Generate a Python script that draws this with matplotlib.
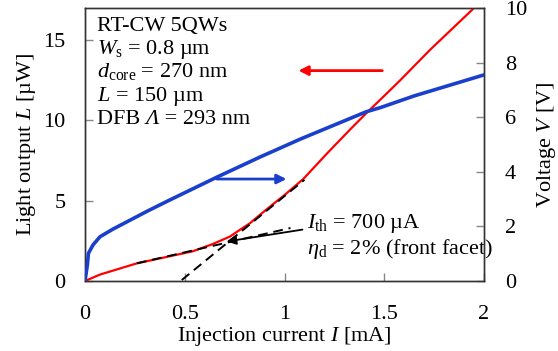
import matplotlib
matplotlib.use("Agg")
import matplotlib.pyplot as plt

plt.rcParams['font.family'] = ['Liberation Serif', 'DejaVu Serif']
plt.rcParams['mathtext.fontset'] = 'custom'
plt.rcParams['mathtext.rm'] = 'Liberation Serif'
plt.rcParams['mathtext.it'] = 'Liberation Serif:italic'
plt.rcParams['mathtext.bf'] = 'Liberation Serif:bold'

# Data
I_L = [0, 0.075, 0.26, 0.54, 0.64, 0.727, 0.76, 0.827, 0.88, 0.944, 1.0, 1.094, 1.21, 1.33, 1.41, 1.51, 1.58, 1.73, 1.95, 1.97]
L_uW = [0, 0.4, 1.1, 1.85, 2.3, 2.77, 3.05, 3.6, 4.15, 4.8, 5.35, 6.35, 7.9, 9.45, 10.45, 11.65, 12.5, 14.4, 17.0, 17.2]

I_V = [0, 0.012, 0.017, 0.04, 0.075, 0.14, 0.31, 0.42, 0.66, 0.88, 1.08, 1.41, 1.48, 1.65, 2.0]
V_V = [0, 0.6, 1.01, 1.32, 1.62, 1.9, 2.55, 2.95, 3.8, 4.55, 5.2, 6.2, 6.35, 6.78, 7.55]

fit_spont_I = [0.26, 1.03]
fit_spont_L = [1.1, 3.3]
fit_las_I = [0.485, 1.10]
fit_las_L = [0.06, 6.3]

x_ticks = [0, 0.5, 1, 1.5, 2]
x_labels = ['0', '0.5', '1', '1.5', '2']
yl_ticks = [0, 5, 10, 15]
yr_ticks = [0, 2, 4, 6, 8, 10]

info_lines = [r'RT-CW 5QWs',
              r'$W_{\rm s}$ = 0.8 µm',
              r'$d_{\rm core}$ = 270 nm',
              r'$L$ = 150 µm']
dfb_parts = ['DFB ', 'Λ', ' = 293 nm']

fig = plt.figure(figsize=(5.58, 3.51), dpi=100)
ax = fig.add_axes([85/558, 1-281/351, (484-85)/558, (281-8)/351])
ax2 = ax.twinx()

red = '#ff0000'
blue = '#1a3fcc'

ax.plot(I_L, L_uW, color=red, lw=1.6, zorder=3)
ax.plot(fit_spont_I, fit_spont_L, color='black', lw=1.4, ls=(0, (5, 3)), zorder=4)
ax.plot(fit_las_I, fit_las_L, color='black', lw=1.4, ls=(0, (5, 3)), zorder=4)
ax2.plot(I_V, V_V, color=blue, lw=2.6, zorder=3)

ax.set_xlim(0, 2)
ax.set_ylim(0, 17)
ax2.set_ylim(0, 10)

ax.set_xticks(x_ticks)
ax.set_xticklabels(x_labels)
ax.set_yticks(yl_ticks)
ax2.set_yticks(yr_ticks)

fs = 16
for a in (ax, ax2):
    a.tick_params(direction='in', length=6, width=1, color='#888888', labelsize=fs, pad=14)
    for s in a.spines.values():
        s.set_color('#333333')
        s.set_linewidth(1.0)
ax.tick_params(axis='x', pad=17)
ax2.tick_params(axis='y', pad=15)

ax.set_xlabel(r'Injection current $I$ [mA]', fontsize=fs, labelpad=1)
ax.set_ylabel(r'Light output $L$ [µW]', fontsize=fs, labelpad=4)
ax2.set_ylabel(r'Voltage $V$ [V]', fontsize=fs, labelpad=6)

# arrows indicating axes
ax.annotate('', xy=(1.07, 13.1), xytext=(1.49, 13.1),
            arrowprops=dict(arrowstyle='-|>', color=red, lw=2, mutation_scale=14, shrinkA=0, shrinkB=0))
ax.annotate('', xy=(1.01, 6.35), xytext=(0.66, 6.35),
            arrowprops=dict(arrowstyle='-|>', color=blue, lw=2, mutation_scale=14, shrinkA=0, shrinkB=0))
ax.annotate('', xy=(0.71, 2.46), xytext=(1.09, 3.2),
            arrowprops=dict(arrowstyle='-|>', color='black', lw=1.3, mutation_scale=14, shrinkA=0, shrinkB=0))

ax.text(1.115, 3.6, r'$I_{\rm th}$ = 700 µA', fontsize=fs, va='center', ha='left')
ax.text(1.115, 2.0, r'$\eta_{\rm d}$ = 2% (front facet)', fontsize=fs, va='center', ha='left')

base_y = [15.56, 14.12, 12.69, 11.19, 9.75]
for k, line in enumerate(info_lines):
    ax.text(0.06, base_y[k], line, fontsize=fs, va='baseline', ha='left')

t1 = ax.text(0.06, base_y[4], dfb_parts[0], fontsize=fs, va='baseline', ha='left')
t2 = ax.annotate(dfb_parts[1], xy=(1, base_y[4]), xycoords=(t1, 'data'),
                 fontsize=fs, va='baseline', ha='left', style='italic')
ax.annotate(dfb_parts[2], xy=(1, base_y[4]), xycoords=(t2, 'data'),
            fontsize=fs, va='baseline', ha='left')

fig.savefig('out.png', dpi=100)
